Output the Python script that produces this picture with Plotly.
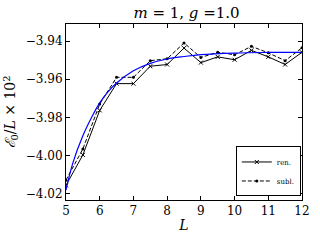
import plotly.graph_objects as go

L = [5.0, 5.5, 6.0, 6.5, 7.0, 7.5, 8.0, 8.5, 9.0, 9.5, 10.0, 10.5, 11.0, 11.5, 12.0]
ren = [-4.0155, -3.9996, -3.9763, -3.9623, -3.9623, -3.9532, -3.9523, -3.9437, -3.9513,
       -3.9483, -3.9498, -3.9449, -3.9483, -3.9523, -3.9459]
subl = [-4.0128, -3.9965, -3.9730, -3.9590, -3.9590, -3.9503, -3.9493, -3.9410, -3.9486,
        -3.9459, -3.9472, -3.9428, -3.9462, -3.9503, -3.9435]

fit_L = [5.0, 5.2, 5.5, 5.75, 6.0, 6.25, 6.5, 7.0, 7.5, 8.0, 8.5, 9.0, 10.0, 11.0, 12.0]
fit_E = [-4.0180, -4.0040, -3.9896, -3.9803, -3.9724, -3.9665, -3.9620, -3.9556, -3.9517,
         -3.9494, -3.9481, -3.9471, -3.9463, -3.9460, -3.9459]

serif = "DejaVu Serif, Liberation Serif, serif"

fig = go.Figure()
fig.add_trace(go.Scatter(x=L, y=ren, mode="lines+markers", name="ren.",
                         line=dict(color="black", width=1),
                         marker=dict(symbol="x-thin", size=4, color="black",
                                     line=dict(color="black", width=1))))
fig.add_trace(go.Scatter(x=L, y=subl, mode="lines+markers", name="subl.",
                         line=dict(color="black", width=1, dash="4px,2px"),
                         marker=dict(symbol="circle", size=3, color="black")))
fig.add_trace(go.Scatter(x=fit_L, y=fit_E, mode="lines", showlegend=False,
                         line=dict(color="#0000ff", width=1.2, shape="spline")))

axis_common = dict(showgrid=False, zeroline=False, showline=True, linecolor="black",
                   linewidth=1, mirror="ticks", ticks="inside", ticklen=4,
                   tickcolor="black", tickwidth=1,
                   tickfont=dict(family=serif, size=12, color="black"))

fig.update_xaxes(range=[5, 12], tick0=5, dtick=1,
                 title=dict(text="<i>L</i>", font=dict(family=serif, size=14, color="black"),
                            standoff=2),
                 **axis_common)
fig.update_yaxes(range=[-4.0232, -3.9311], tick0=-4.02, dtick=0.02, tickformat=".2f",
                 title=dict(text="<i>ℰ</i><sub>0</sub>/<i>L</i> × 10<sup>2</sup>",
                            font=dict(family=serif, size=14, color="black"), standoff=6),
                 **axis_common)

fig.update_layout(
    width=320, height=240,
    margin=dict(l=63, r=10, t=24, b=34),
    paper_bgcolor="white", plot_bgcolor="white",
    title=dict(text="<i>m</i> = 1, <i>g</i> =1.0", x=0.583, xanchor="center",
               y=1 - 13 / 240, yanchor="middle", yref="container",
               font=dict(family=serif, size=15, color="black")),
    legend=dict(x=0.995, y=0.02, xanchor="right", yanchor="bottom",
                bordercolor="black", borderwidth=1, bgcolor="white",
                font=dict(family=serif, size=7, color="black"),
                itemwidth=30, tracegroupgap=0),
    showlegend=True,
)

fig.write_html("out.html", config={"displayModeBar": False},
               post_script="document.body.style.margin='0';")
